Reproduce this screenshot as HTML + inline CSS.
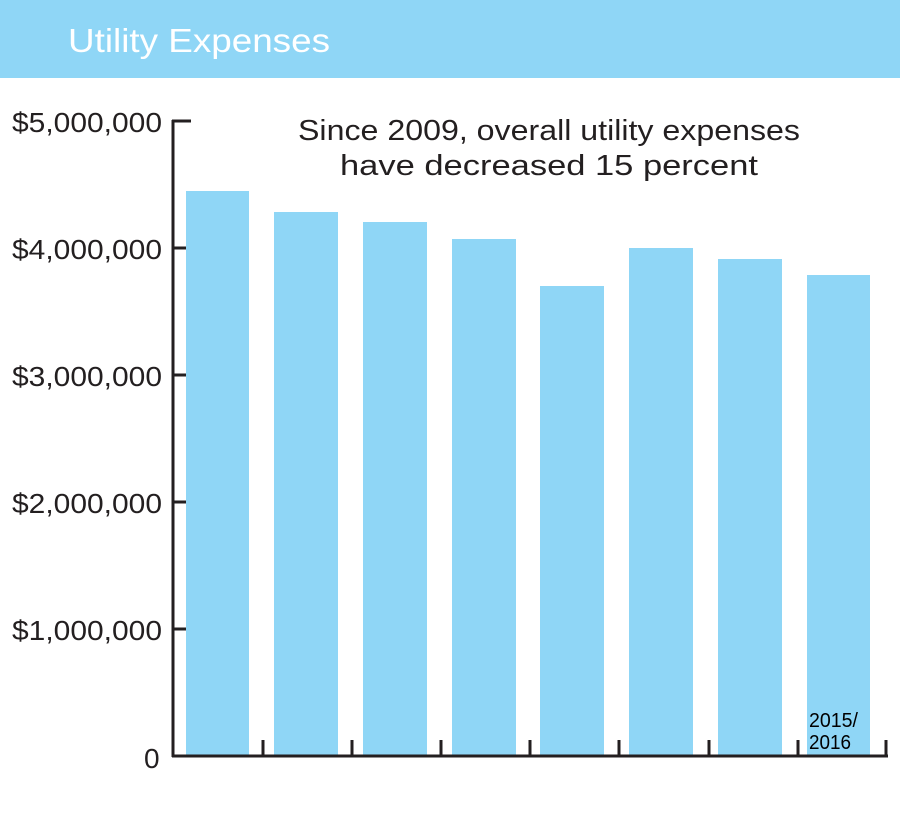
<!DOCTYPE html>
<html><head><style>
body{margin:0;width:900px;height:808px;background:#fff;overflow:hidden;font-family:"Liberation Sans",sans-serif}
</style></head><body>
<svg width="900" height="808" xmlns="http://www.w3.org/2000/svg">
<rect x="0" y="0" width="900" height="78" fill="#8fd6f6"/>
<text x="68" y="52" font-size="33" fill="#fff" textLength="262" lengthAdjust="spacingAndGlyphs" font-family="Liberation Sans, sans-serif">Utility Expenses</text>
<g fill="#8fd6f6">
<rect x="186" y="191" width="63" height="565"/>
<rect x="274" y="212" width="64" height="544"/>
<rect x="363" y="222" width="64" height="534"/>
<rect x="452" y="239" width="64" height="517"/>
<rect x="540" y="286" width="64" height="470"/>
<rect x="629" y="248" width="64" height="508"/>
<rect x="718" y="259" width="64" height="497"/>
<rect x="807" y="275" width="63" height="481"/>
</g>
<g stroke="#231f20" stroke-width="3" fill="none">
<line x1="173" y1="120" x2="173" y2="757"/>
<line x1="172" y1="756" x2="888" y2="756"/>
<line x1="172" y1="121" x2="191" y2="121"/>
<line x1="172" y1="248" x2="186" y2="248"/>
<line x1="172" y1="375" x2="186" y2="375"/>
<line x1="172" y1="502" x2="186" y2="502"/>
<line x1="172" y1="629" x2="186" y2="629"/>
<line x1="263" y1="740" x2="263" y2="756"/>
<line x1="352" y1="740" x2="352" y2="756"/>
<line x1="441" y1="740" x2="441" y2="756"/>
<line x1="530" y1="740" x2="530" y2="756"/>
<line x1="619" y1="740" x2="619" y2="756"/>
<line x1="709" y1="740" x2="709" y2="756"/>
<line x1="798" y1="740" x2="798" y2="756"/>
<line x1="886" y1="740" x2="886" y2="756"/>
</g>
<g font-size="28" fill="#231f20" font-family="Liberation Sans, sans-serif">
<text x="12" y="132" textLength="150" lengthAdjust="spacingAndGlyphs">$5,000,000</text>
<text x="12" y="259" textLength="150" lengthAdjust="spacingAndGlyphs">$4,000,000</text>
<text x="12" y="386" textLength="150" lengthAdjust="spacingAndGlyphs">$3,000,000</text>
<text x="12" y="513" textLength="150" lengthAdjust="spacingAndGlyphs">$2,000,000</text>
<text x="12" y="640" textLength="150" lengthAdjust="spacingAndGlyphs">$1,000,000</text>
<text x="144" y="768">0</text>
</g>
<g font-size="29" fill="#231f20" font-family="Liberation Sans, sans-serif">
<text x="298" y="140" textLength="502" lengthAdjust="spacingAndGlyphs">Since 2009, overall utility expenses</text>
<text x="340" y="175" textLength="418" lengthAdjust="spacingAndGlyphs">have decreased 15 percent</text>
</g>
<g font-size="20" fill="#000" font-family="Liberation Sans, sans-serif">
<text x="809" y="727" textLength="49" lengthAdjust="spacingAndGlyphs">2015/</text>
<text x="809" y="749" textLength="42" lengthAdjust="spacingAndGlyphs">2016</text>
</g>
</svg>
</body></html>
